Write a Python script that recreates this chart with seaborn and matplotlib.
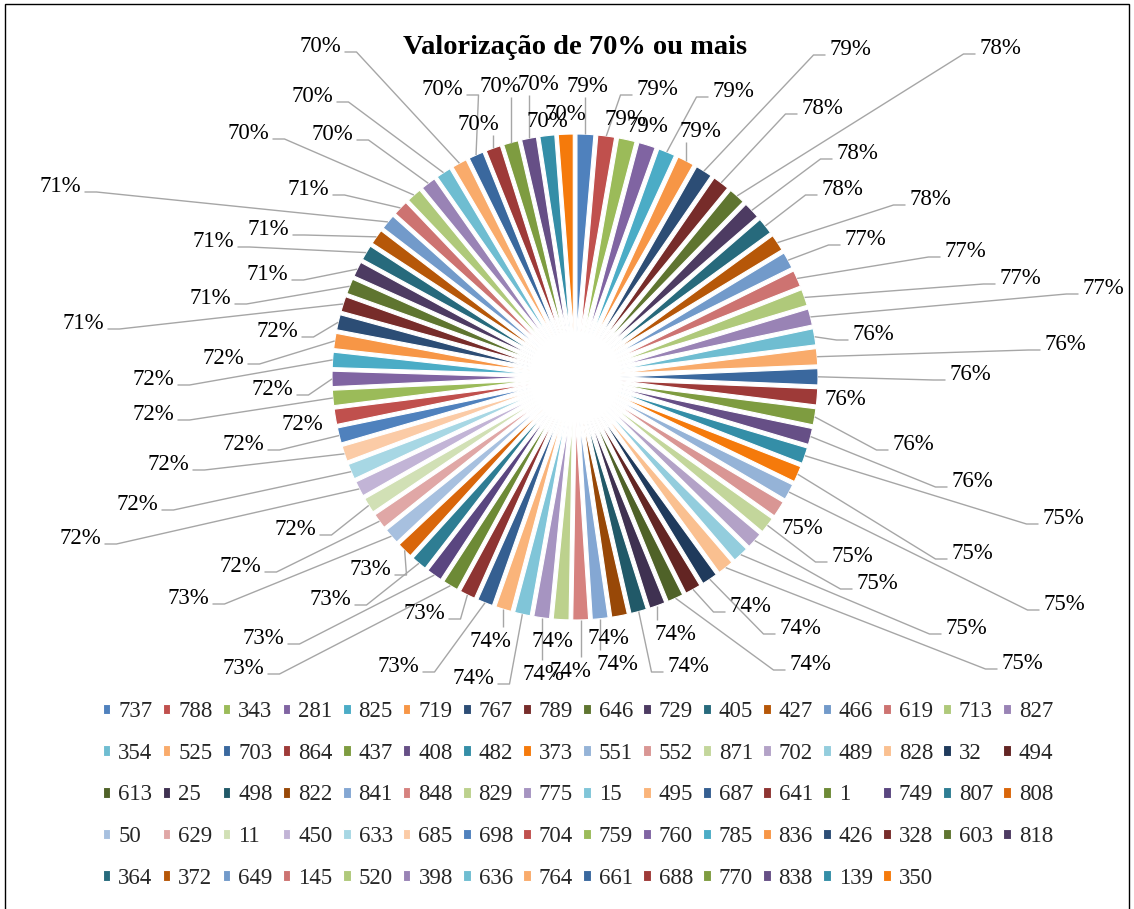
import numpy as np
import matplotlib
matplotlib.use("Agg")
import matplotlib.pyplot as plt
from matplotlib.patches import Rectangle
import seaborn as sns

# ---- data -----------------------------------------------------------------
codigos = [
    "737", "788", "343", "281", "825", "719", "767", "789", "646", "729", "405", "427", "466", "619", "713", "827",
    "354", "525", "703", "864", "437", "408", "482", "373", "551", "552", "871", "702", "489", "828", "32", "494",
    "613", "25", "498", "822", "841", "848", "829", "775", "15", "495", "687", "641", "1", "749", "807", "808",
    "50", "629", "11", "450", "633", "685", "698", "704", "759", "760", "785", "836", "426", "328", "603", "818",
    "364", "372", "649", "145", "520", "398", "636", "764", "661", "688", "770", "838", "139", "350",
]
valorizacao = [
    79, 79, 79, 79, 79, 79, 79, 78, 78, 78, 78, 78, 77, 77, 77, 77,
    76, 76, 76, 76, 76, 76, 75, 75, 75, 75, 75, 75, 75, 75, 74, 74,
    74, 74, 74, 74, 74, 74, 74, 74, 74, 74, 73, 73, 73, 73, 73, 73,
    73, 72, 72, 72, 72, 72, 72, 72, 72, 72, 72, 72, 72, 71, 71, 71,
    71, 71, 71, 71, 70, 70, 70, 70, 70, 70, 70, 70, 70, 70,
]
titulo = "Valorização de 70% ou mais"

# ---- styling ----------------------------------------------------------------
sns.set_theme(style="white")
plt.rcParams["font.family"] = ["Liberation Serif", "DejaVu Serif"]

paleta_base = [
    "#4F81BD", "#C0504D", "#9BBB59", "#8064A2", "#4BACC6", "#F79646",
    "#2C4D75", "#772C2A", "#5F7530", "#4D3B62", "#276A7C", "#B65708",
    "#729ACA", "#CD7371", "#AFC97A", "#9983B5", "#6FBDD1", "#F9AB6B",
    "#3A689E", "#9E3A38", "#7E9C40", "#664F86", "#348EA7", "#F57A0B",
    "#95B3D7", "#D99694", "#C3D69B", "#B3A2C7", "#93CDDD", "#FAC090",
    "#1F3A5C", "#632523", "#4F6228", "#3F3151", "#215968", "#984807",
    "#84A7D3", "#D6827F", "#BCD18D", "#A694C1", "#80C5D8", "#FAB47A",
    "#355F91", "#8E3432", "#6D8A36", "#5A4680", "#2E7D93", "#D9660A",
    "#A7C0DF", "#E0A7A6", "#D1E0B5", "#C2B4D6", "#A7D7E4", "#FBCBA6",
]
cores = sns.color_palette([paleta_base[i % len(paleta_base)] for i in range(len(valorizacao))])

# label placement (pixel positions of each label's centre, y measured downwards)
pos_rotulos = [
    (587, 85), (657, 88), (625, 118), (647, 125), (733, 90), (700, 130), (850, 48), (822, 107),
    (1000, 47), (857, 152), (842, 188), (930, 198), (865, 238), (965, 250), (1020, 277), (1103, 287),
    (873, 333), (1065, 343), (970, 373), (845, 398), (913, 443), (972, 480), (1063, 517), (972, 552),
    (1064, 603), (802, 527), (852, 555), (877, 582), (966, 627), (1022, 662), (800, 627), (750, 605),
    (810, 663), (675, 633), (688, 665), (608, 637), (617, 663), (570, 670), (552, 640), (543, 673),
    (473, 677), (490, 640), (398, 665), (424, 612), (243, 667), (263, 637), (330, 598), (370, 568),
    (188, 597), (240, 565), (295, 528), (80, 537), (137, 503), (168, 463), (243, 443), (302, 423),
    (153, 413), (272, 388), (153, 378), (223, 357), (277, 330), (83, 322), (210, 297), (267, 273),
    (213, 240), (268, 228), (60, 185), (308, 188), (248, 132), (332, 133), (312, 95), (320, 45),
    (442, 88), (478, 123), (500, 85), (538, 83), (547, 120), (565, 113),
]

W, H = 1134, 909
CX, CY = 575, 377          # pie centre (px, y down)
R_EXT = 243                # outer reach of the exploded wedges
EXPL = 0.23                # offset of each wedge, as a fraction of its radius
R = R_EXT / (1 + EXPL)
FS = 16.5
COR_LINHA = "#A6A6A6"

fig = plt.figure(figsize=(W / 100, H / 100), dpi=100)
fig.patch.set_facecolor("white")
ax = fig.add_axes([0, 0, 1, 1])

n = len(valorizacao)
wedges, _ = ax.pie(
    valorizacao, colors=cores, startangle=90, counterclock=False,
    radius=R, center=(CX, H - CY), explode=[EXPL * R] * n,
    wedgeprops=dict(edgecolor="white", linewidth=0.8),
)
ax.set_xlim(0, W)
ax.set_ylim(0, H)
ax.set_aspect("auto")
ax.axis("off")

# mid angle of every slice, clockwise from 12 o'clock
v = np.asarray(valorizacao, dtype=float)
meio = (np.cumsum(v) - v / 2) / v.sum() * 2 * np.pi


def linha(pts):
    xs = [p[0] for p in pts]
    ys = [H - p[1] for p in pts]
    ax.plot(xs, ys, color=COR_LINHA, lw=1.0, solid_capstyle="butt", zorder=1)


LARG = 41
for i, (val, (lx, ly)) in enumerate(zip(valorizacao, pos_rotulos)):
    ax.text(lx, H - (ly + 7), f"{val}%", ha="center", va="baseline",
            fontsize=FS, color="black", zorder=3)
    axp = CX + R_EXT * np.sin(meio[i])
    ayp = CY - R_EXT * np.cos(meio[i])
    esq, dir_ = lx - LARG / 2, lx + LARG / 2
    topo, base = ly - 10, ly + 9
    dx = max(esq - axp, 0, axp - dir_)
    dy = max(topo - ayp, 0, ayp - base)
    if np.hypot(dx, dy) < 14:
        continue
    if esq <= axp <= dir_:
        fim = base + 3 if ayp > base else topo - 3
        linha([(axp, ayp), (axp, fim)])
    elif axp < esq:
        ty = ly + 7
        linha([(axp, ayp), (esq - 16, ty), (esq - 4, ty)])
    else:
        ty = ly + 7
        linha([(axp, ayp), (dir_ + 16, ty), (dir_ + 4, ty)])

fig.text(575 / W, 1 - 54 / H, titulo, ha="center", va="baseline",
         fontsize=20.5, fontweight="bold", color="black")

# legend laid out row by row across 16 columns
ncol = 16
linhas_por_col = [len(range(c, n, ncol)) for c in range(ncol)]
ordem = [r * ncol + c for c in range(ncol) for r in range(linhas_por_col[c])]
leg = fig.legend(
    [wedges[k] for k in ordem], [codigos[k] for k in ordem],
    ncol=ncol, loc="center", bbox_to_anchor=(578 / W, 1 - 795 / H),
    frameon=False, fontsize=FS, handlelength=0.33, handleheight=0.33,
    handletextpad=0.35, columnspacing=0.44, labelspacing=0.9, borderpad=0,
)

fig.add_artist(Rectangle((5 / W, -5 / H), 1124 / W, (H - 4 + 5) / H,
                         transform=fig.transFigure, fill=False,
                         edgecolor="black", linewidth=1.0))

fig.savefig("out.png", dpi=100, facecolor="white")
